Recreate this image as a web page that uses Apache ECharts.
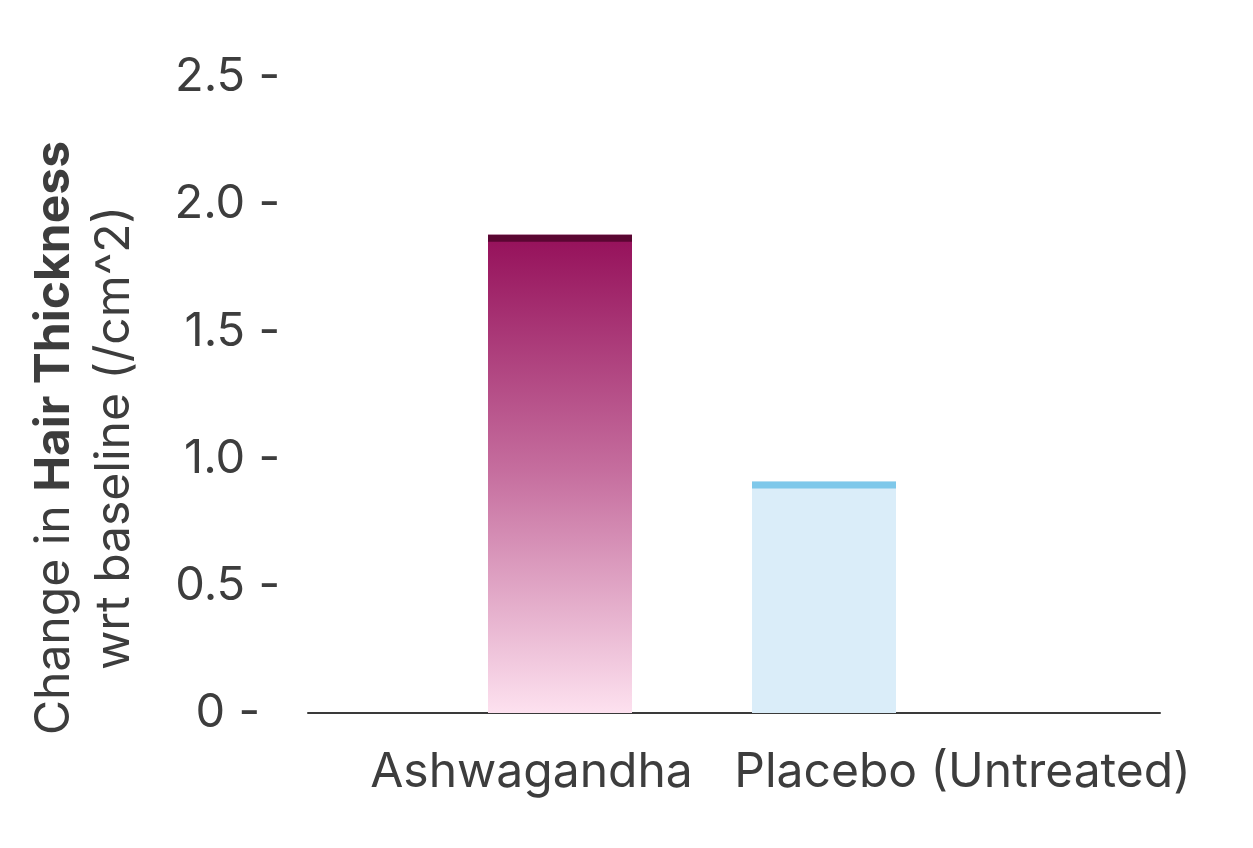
<!DOCTYPE html>
<html><head><meta charset="utf-8">
<script src="https://cdn.jsdelivr.net/npm/echarts@6/dist/echarts.min.js"></script>
<style>html,body{margin:0;padding:0;background:#fff}#c{width:1253px;height:848px}</style>
</head><body><div id="c"></div>
<script>
const categories = ['Ashwagandha', 'Placebo (Untreated)'];
const values = [1.88, 0.91];
const yTicks = [0, 0.5, 1.0, 1.5, 2.0, 2.5];
const titleLine1a = 'Change in ';
const titleLine1b = 'Hair Thickness';
const titleLine2 = 'wrt baseline (/cm^2)';

const txt = '#3d3d3d';
const FONT = 'Inter';
const FS = 47;
const chart = echarts.init(document.getElementById('c'));
const gTop = 77, gBottom = 135;
const yBase = {type:'value', min:yTicks[0], max:yTicks[yTicks.length-1], interval:yTicks[1]-yTicks[0]};
chart.setOption({
  animation:false,
  grid:[
    {left:308, right:93, top:gTop, bottom:gBottom},
    {left:316, right:75, top:gTop, bottom:gBottom},
    {left:428, right:297, top:gTop, bottom:gBottom}
  ],
  xAxis:[
    {type:'category', gridIndex:0, data:categories, axisLine:{lineStyle:{color:'#3a3a3a', width:2}}, axisTick:{show:false}, axisLabel:{show:false}},
    {type:'category', gridIndex:1, data:categories, axisLine:{show:false}, axisTick:{show:false},
      axisLabel:{color:txt, fontFamily:FONT, fontSize:48, margin:36, interval:0}},
    {type:'category', gridIndex:2, data:categories, show:false}
  ],
  yAxis:[
    Object.assign({gridIndex:0, axisLine:{show:false}, axisTick:{show:false}, splitLine:{show:false},
      axisLabel:{color:txt, fontFamily:FONT, fontSize:FS, margin:28,
        formatter:function(v){ const s = (v===0?'0':v.toFixed(1)); return v===0 ? '{z|'+s+' -}' : s+' -'; },
        rich:{z:{color:txt, fontFamily:FONT, fontSize:FS, padding:[0,20,0,0]}}}}, yBase),
    Object.assign({gridIndex:1, show:false}, yBase),
    Object.assign({gridIndex:2, show:false}, yBase)
  ],
  series:[
    {type:'bar', xAxisIndex:2, yAxisIndex:2, barWidth:144,
      data:[
        {value:values[0], itemStyle:{color:new echarts.graphic.LinearGradient(0,0,0,1,[
          {offset:0,color:'#95105a'},{offset:0.5,color:'#c66f9f'},{offset:1,color:'#fde1ef'}])}},
        {value:values[1], itemStyle:{color:'#daedf9'}}
      ]},
    {type:'pictorialBar', xAxisIndex:2, yAxisIndex:2, symbol:'rect', symbolSize:[144,7], symbolPosition:'end', z:3,
      data:[
        {value:values[0], itemStyle:{color:'#5a0632'}},
        {value:values[1], itemStyle:{color:'#7ec8ea'}}
      ]}
  ],
  graphic:[
    {type:'text', x:85, y:438, rotation:Math.PI/2,
      style:{text:'{n|'+titleLine1a+'}{b|'+titleLine1b+'}\n{n|'+titleLine2+'}', align:'center', verticalAlign:'middle',
        rich:{n:{fontFamily:FONT, fontSize:48, fill:txt, lineHeight:60}, b:{fontFamily:FONT, fontSize:48, fontWeight:'bold', fill:txt, lineHeight:60}}}}
  ]
});
</script></body></html>
